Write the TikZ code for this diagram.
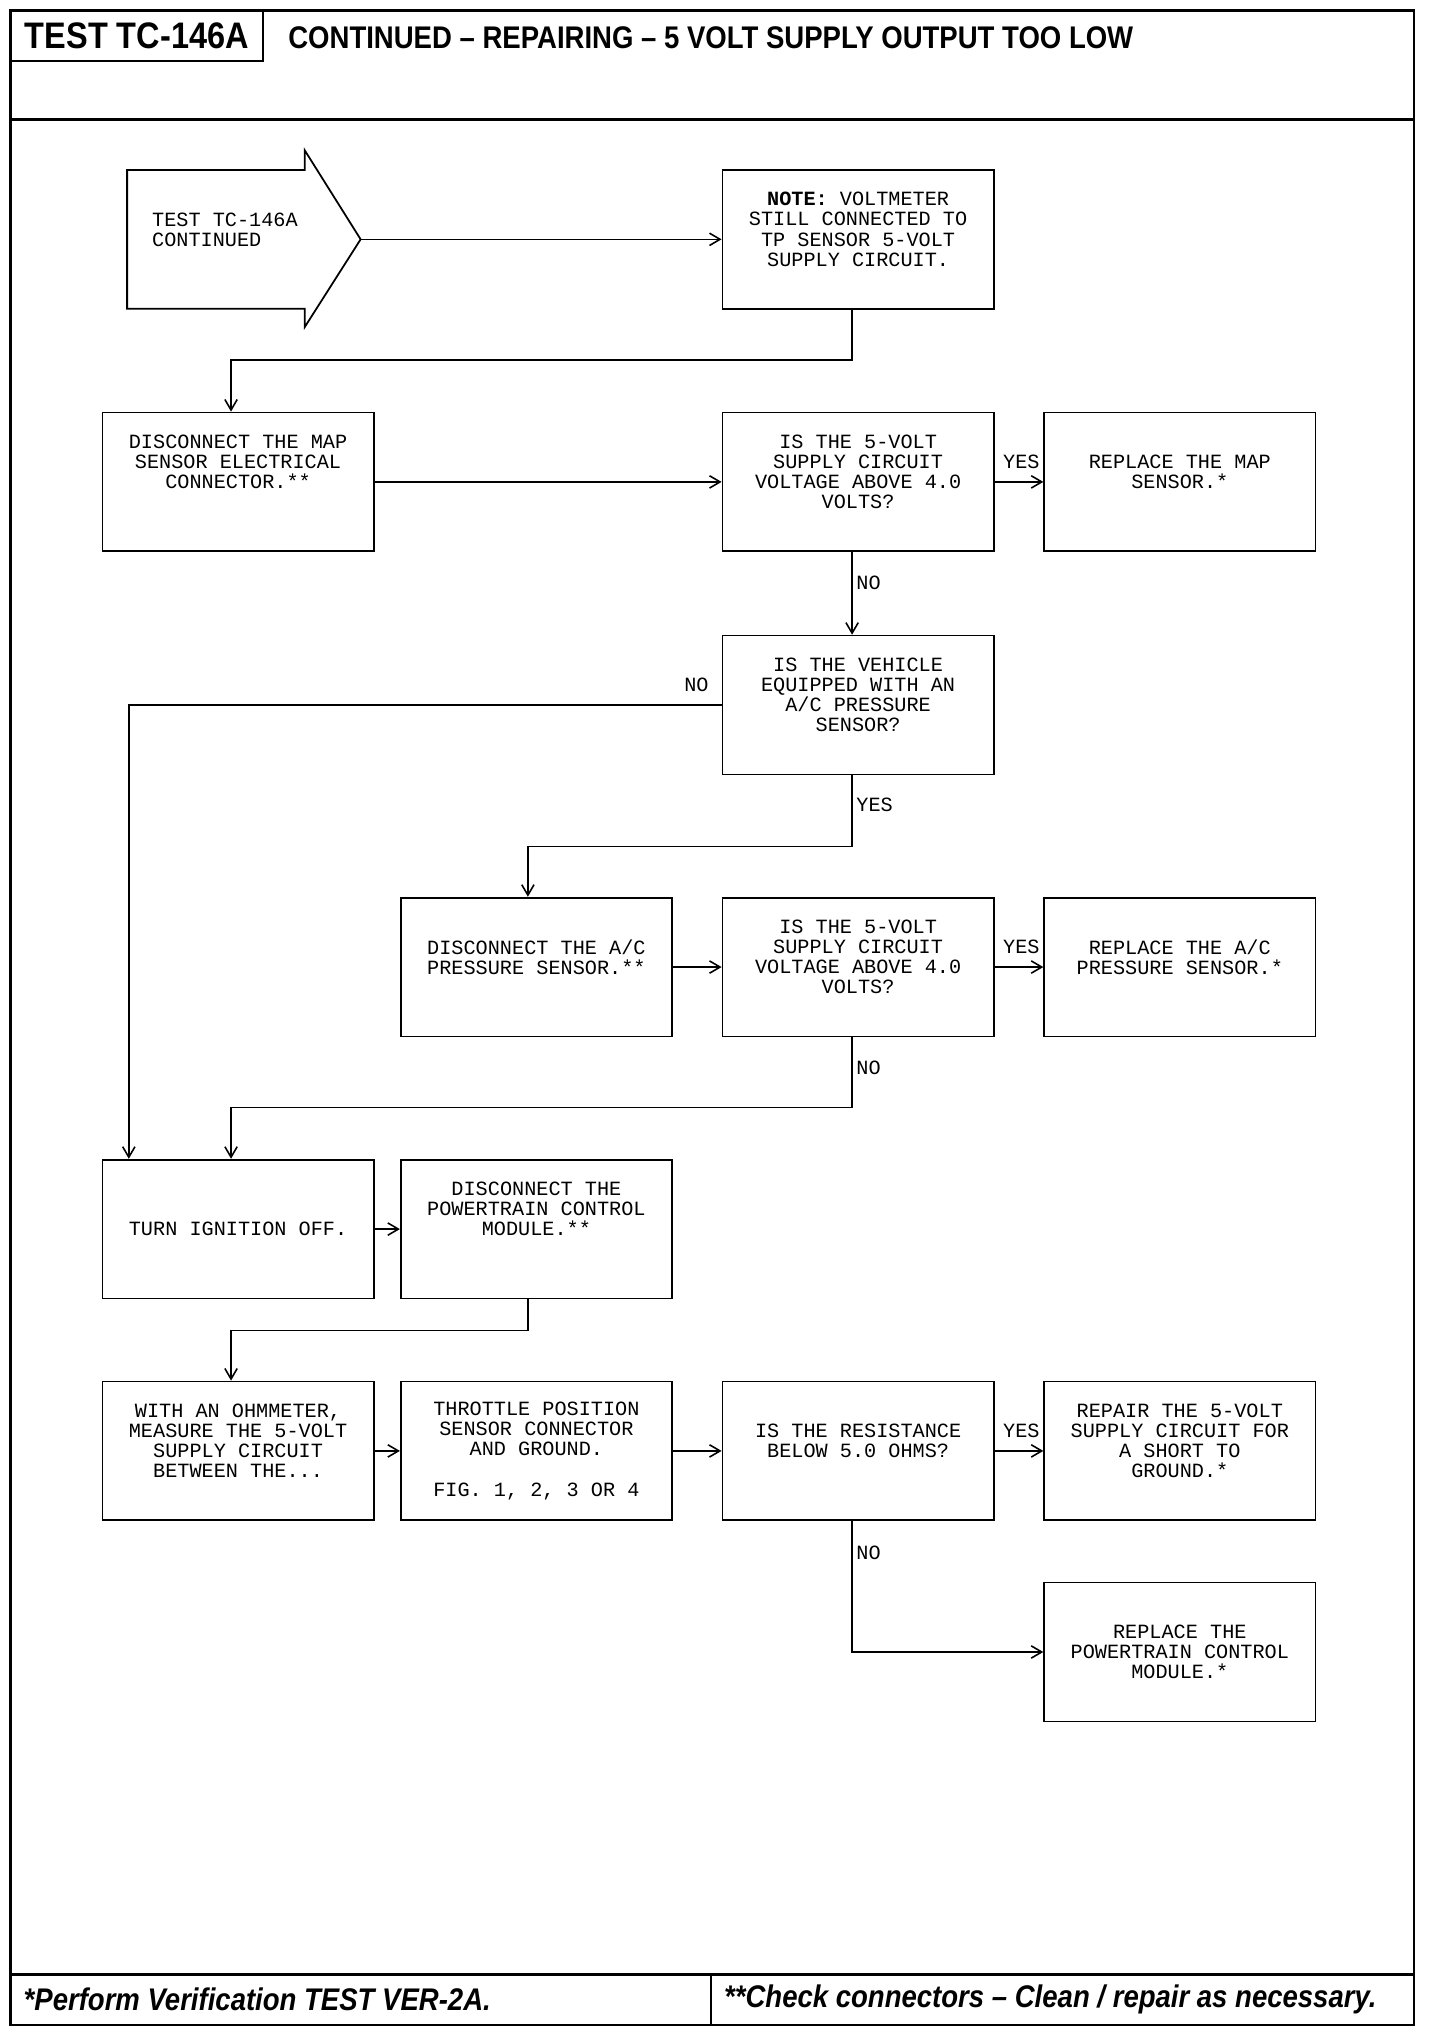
\documentclass[tikz,border=0pt]{standalone}
\usepackage{fontspec}
\setmainfont{Liberation Sans}
\newfontfamily\monofont{Liberation Mono}
\newfontfamily\headfont[FakeStretch=0.88]{Liberation Sans}
\usetikzlibrary{arrows.meta,calc}

\begin{document}
\begin{tikzpicture}[x=0.025946cm, y=-0.025946cm, >={Straight Barb[length=6pt,width=7pt]},
  stepbox/.style={draw, line width=1pt, minimum width=5.4227cm, minimum height=2.7762cm, inner sep=0pt, align=center, font=\monofont\fontsize{11.5}{11.44}\selectfont},
  lbl/.style={font=\monofont\fontsize{11.5}{11.44}\selectfont, inner sep=2pt},
  conn/.style={line width=0.9pt, ->}]
\useasboundingbox (0,0) rectangle (1110,1568);
\draw[line width=1.5pt] (8,8) rectangle (1090,1561);
\draw[line width=1.5pt] (8,92) -- (1090,92);
\draw[line width=1.5pt] (8,1522) -- (1090,1522);
\draw[line width=1.2pt] (548,1522) -- (548,1561);
\node[draw, line width=1.2pt, minimum width=5.0595cm, minimum height=1.0119cm, font=\headfont\bfseries\fontsize{21}{21}\selectfont] (t) at (105.5,27.5) {TEST TC-146A};
\node[anchor=west, inner sep=0pt, font=\headfont\bfseries\fontsize{17.8}{17.8}\selectfont] (tt) at (222,29) {CONTINUED – REPAIRING – 5 VOLT SUPPLY OUTPUT TOO LOW};
\node[anchor=west, inner sep=0pt, font=\headfont\bfseries\itshape\fontsize{17.8}{17.8}\selectfont] (fa) at (18,1541.5) {*Perform Verification TEST VER-2A.};
\node[anchor=west, inner sep=0pt, font=\headfont\bfseries\itshape\fontsize{17.8}{17.8}\selectfont] (fb) at (558,1541.5) {**Check connectors – Clean / repair as necessary.};

\draw[line width=1pt] (98,131) -- (235,131) -- (235,116) -- (278,184.5) -- (235,252) -- (235,238) -- (98,238) -- cycle;
\node[anchor=west, inner sep=0pt, align=left, font=\monofont\fontsize{11.5}{11.44}\selectfont] (s) at (117,177.5) {TEST TC-146A\\CONTINUED};
\coordinate (tip) at (278,184.5);

\node[stepbox] (a) at (661.5,184.5) {\textbf{NOTE:} VOLTMETER\\STILL CONNECTED TO\\TP SENSOR 5-VOLT\\SUPPLY CIRCUIT.\\~};
\node[stepbox] (b) at (183.5,371.5) {DISCONNECT THE MAP\\SENSOR ELECTRICAL\\CONNECTOR.**\\~\\~};
\node[stepbox] (c) at (661.5,371.5) {IS THE 5-VOLT\\SUPPLY CIRCUIT\\VOLTAGE ABOVE 4.0\\VOLTS?\\~};
\node[stepbox] (d) at (909.5,371.5) {REPLACE THE MAP\\SENSOR.*\\~};
\node[stepbox] (e) at (661.5,543.5) {IS THE VEHICLE\\EQUIPPED WITH AN\\A/C PRESSURE\\SENSOR?\\~};
\node[stepbox] (f) at (413.5,745.5) {DISCONNECT THE A/C\\PRESSURE SENSOR.**\\~};
\node[stepbox] (g) at (661.5,745.5) {IS THE 5-VOLT\\SUPPLY CIRCUIT\\VOLTAGE ABOVE 4.0\\VOLTS?\\~};
\node[stepbox] (h) at (909.5,745.5) {REPLACE THE A/C\\PRESSURE SENSOR.*\\~};
\node[stepbox] (i) at (183.5,947.5) {TURN IGNITION OFF.};
\node[stepbox] (j) at (413.5,947.5) {DISCONNECT THE\\POWERTRAIN CONTROL\\MODULE.**\\~\\~};
\node[stepbox] (k) at (183.5,1118.5) {WITH AN OHMMETER,\\MEASURE THE 5-VOLT\\SUPPLY CIRCUIT\\BETWEEN THE...\\~};
\node[stepbox] (l) at (413.5,1118.5) {THROTTLE POSITION\\SENSOR CONNECTOR\\AND GROUND.\\~\\FIG. 1, 2, 3 OR 4};
\node[stepbox] (m) at (661.5,1118.5) {IS THE RESISTANCE\\BELOW 5.0 OHMS?\\~};
\node[stepbox] (n) at (909.5,1118.5) {REPAIR THE 5-VOLT\\SUPPLY CIRCUIT FOR\\A SHORT TO\\GROUND.*\\~};
\node[stepbox] (o) at (909.5,1273.5) {REPLACE THE\\POWERTRAIN CONTROL\\MODULE.*};

\draw[conn] (tip) -- (a);
\draw[conn] ([xshift=-1.2mm]a.south) -- ++(0,39) -| ([xshift=-1.4mm]b.north);
\draw[conn] (b) -- (c);
\draw[conn] (c) -- node[lbl, above=5pt, pos=0.55] {YES} (d);
\draw[conn] ([xshift=-1.2mm]c.south) -- node[lbl, right, pos=0.37] {NO} ([xshift=-1.2mm]e.north);
\draw[conn] (e.west) -| node[lbl, above left=5pt, pos=0] {NO} ($(i.north west)+(21,0)$);
\draw[conn] ([xshift=-1.2mm]e.south) -- node[lbl, right, pos=0.42] {YES} ++(0,55) -| ([xshift=-1.7mm]f.north);
\draw[conn] (f) -- (g);
\draw[conn] (g) -- node[lbl, above=5pt, pos=0.55] {YES} (h);
\draw[conn] ([xshift=-1.2mm]g.south) -- node[lbl, right, pos=0.44] {NO} ++(0,54) -| ([xshift=-1.4mm]i.north);
\draw[conn] (i) -- (j);
\draw[conn] ([xshift=-1.7mm]j.south) -- ++(0,24) -| ([xshift=-1.4mm]k.north);
\draw[conn] (k) -- (l);
\draw[conn] (l) -- (m);
\draw[conn] (m) -- node[lbl, above=5pt, pos=0.55] {YES} (n);
\draw[conn] ([xshift=-1.2mm]m.south) |- node[lbl, right, pos=0.12] {NO} (o.west);
\end{tikzpicture}
\end{document}
